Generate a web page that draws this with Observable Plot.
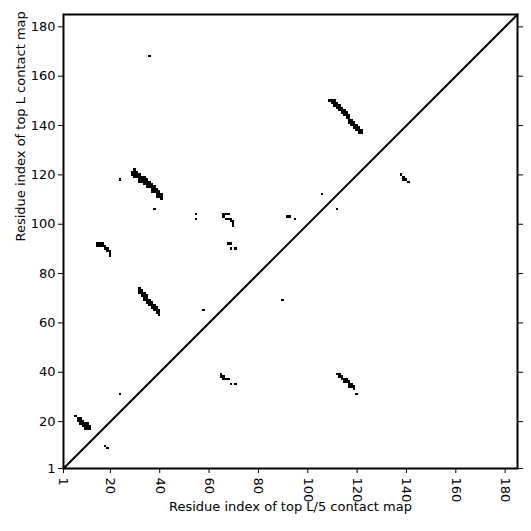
<!DOCTYPE html>
<html>
<head>
<meta charset="utf-8">
<script src="https://cdn.jsdelivr.net/npm/d3@7"></script>
<script src="https://cdn.jsdelivr.net/npm/@observablehq/plot@0.6"></script>
<style>
  html, body { margin: 0; padding: 0; background: white; }
</style>
</head>
<body>
<div id="chart"></div>
<script>
// Residue range and tick labels
const residueRange = [1, 185];
const tickValues = [1, 20, 40, 60, 80, 100, 120, 140, 160, 180];
const xLabel = "Residue index of top L/5 contact map";
const yLabel = "Residue index of top L contact map";

// Contacts above the diagonal (top L map), [x residue, y residue]
const upperContacts = [
  [6,22],[7,20],[7,21],[8,19],[8,20],[8,21],[9,18],[9,19],[9,20],[10,17],[10,18],[10,19],[11,17],[11,18],[11,19],[12,17],[12,18],
  [15,91],[15,92],[16,91],[16,92],[17,91],[17,92],[18,90],[18,91],[19,89],[19,90],[20,87],[20,88],[20,89],
  [24,31],[24,118],[36,168],[38,106],
  [29,120],[29,121],[30,119],[30,120],[30,121],[30,122],[31,119],[31,120],[31,121],
  [32,117],[32,118],[32,119],[32,120],[33,117],[33,118],[33,119],[34,116],[34,117],[34,118],[34,119],
  [35,115],[35,116],[35,117],[35,118],[36,115],[36,116],[36,117],
  [37,113],[37,114],[37,115],[37,116],[38,113],[38,114],[38,115],
  [39,111],[39,112],[39,113],[39,114],[40,111],[40,112],[40,113],[41,110],[41,111],[41,112],
  [32,72],[32,73],[32,74],[33,71],[33,72],[33,73],[34,69],[34,70],[34,71],[34,72],
  [35,68],[35,69],[35,70],[35,71],[36,67],[36,68],[36,69],
  [37,66],[37,67],[37,68],[38,65],[38,66],[38,67],[39,64],[39,65],[39,66],[40,63],[40,64],[40,65],
  [55,102],[55,104],[58,65],
  [66,103],[66,104],[67,104],[68,104],[67,102],[68,102],[69,102],[69,101],[70,101],[70,100],[70,99],
  [68,92],[69,92],[69,90],[71,90],
  [92,103],[93,103],[95,102],[106,112],
  [109,150],[110,149],[110,150],[111,148],[111,149],[111,150],[112,147],[112,148],[112,149],
  [113,146],[113,147],[113,148],[114,145],[114,146],[114,147],[115,144],[115,145],[115,146],
  [116,143],[116,144],[116,145],[117,141],[117,142],[117,143],[117,144],
  [118,140],[118,141],[118,142],[119,139],[119,140],[119,141],[120,138],[120,139],[120,140],
  [121,137],[121,138],[121,139],[122,137],[122,138]
];

// Contacts below the diagonal (top L/5 map), [x residue, y residue]
const lowerContacts = [
  [18,10],[19,9],
  [65,38],[65,39],[66,37],[66,38],[67,37],[68,37],[69,35],[71,35],
  [90,69],[112,106],
  [112,39],[113,38],[113,39],[114,37],[114,38],[115,36],[115,37],[116,36],[116,37],[117,34],[117,35],[117,36],
  [118,34],[118,35],[119,33],[119,34],[120,31],
  [138,120],[139,118],[139,119],[140,118],[141,117]
];

const diagonal = [residueRange[0], residueRange[1]];

const cellOpts = {
  x1: d => d[0] - 0.5, x2: d => d[0] + 0.5,
  y1: d => d[1] - 0.5, y2: d => d[1] + 0.5,
  fill: "black", inset: 0, clip: true, shapeRendering: "crispEdges"
};

const chart = Plot.plot({
  width: 531,
  height: 531,
  marginLeft: 63,
  marginRight: 14,
  marginTop: 14,
  marginBottom: 63,
  x: { domain: residueRange },
  y: { domain: residueRange },
  style: { fontFamily: "DejaVu Sans", fontSize: "13px", color: "black", background: "white" },
  marks: [
    Plot.rect(upperContacts, cellOpts),
    Plot.rect(lowerContacts, cellOpts),
    Plot.line(diagonal, { x: d => d, y: d => d, stroke: "black", strokeWidth: 2 }),
    Plot.frame({ stroke: "black", strokeWidth: 2 }),
    Plot.axisX({ ticks: tickValues, tickSize: 5, tickFormat: () => "", label: null }),
    Plot.text(tickValues, { x: d => d, text: d => String(d), frameAnchor: "bottom", dy: 9, rotate: 90, textAnchor: "start", lineAnchor: "middle", fontSize: 13 }),
    Plot.axisY({ ticks: tickValues, tickSize: 5, tickPadding: 3, label: null, fontSize: 13 }),
    Plot.axisY({ anchor: "right", ticks: tickValues, tickSize: 5, tickFormat: () => "", label: null }),
    Plot.text([xLabel], { text: d => d, frameAnchor: "bottom", dy: 42, fontSize: 13 }),
    Plot.text([yLabel], { text: d => d, frameAnchor: "left", dx: -43, rotate: -90, fontSize: 13 })
  ]
});

document.getElementById("chart").appendChild(chart);
</script>
</body>
</html>
